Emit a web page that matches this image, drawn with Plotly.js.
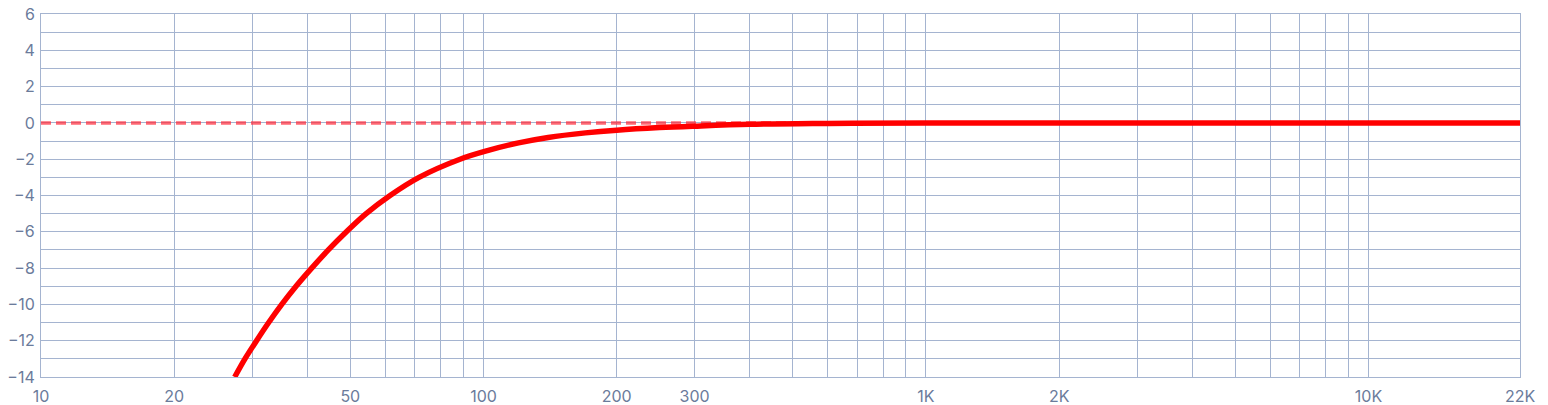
<!DOCTYPE html>
<html>
<head>
<meta charset="utf-8">
<script src="https://cdn.plot.ly/plotly-3.0.1.min.js"></script>
<style>html,body{margin:0;padding:0;background:#fff;}#chart{width:1548px;height:405px;}</style>
</head>
<body>
<div id="chart"></div>
<script>
// Frequency response (Hz, dB)
const freqs = [27.4, 28.9, 30.7, 32.7, 35.0, 37.7, 40.9, 44.6, 49.0, 54.3, 61.5, 71.5, 88.5, 103, 120, 140, 170, 200, 250, 300, 400, 600, 1000, 22000];
const gains = [-14, -13, -12, -11, -10, -9, -8, -7, -6, -5, -4, -3, -2, -1.5, -1.1, -0.8, -0.55, -0.4, -0.26, -0.18, -0.08, -0.03, 0, 0];

// Reference (flat) line
const refFreqs = [10, 22000];
const refGains = [0, 0];

// Axis ticks
const xTickVals = [10,20,30,40,50,60,70,80,90,100,200,300,400,500,600,700,800,900,1000,2000,3000,4000,5000,6000,7000,8000,9000,10000,22000];
const xTickText = ['10','20','','','50','','','','','100','200','300','','','','','','','1K','2K','','','','','','','','10K','22K'];
const yTickVals = [-14,-13,-12,-11,-10,-9,-8,-7,-6,-5,-4,-3,-2,-1,0,1,2,3,4,5,6];
const yTickText = ['\u221214','','\u221212','','\u221210','','\u22128','','\u22126','','\u22124','','\u22122','','0','','2','','4','','6'];

const gridColor = '#a5b4d0';
const textColor = '#6b7b9b';

const traces = [
  {x: refFreqs, y: refGains, mode: 'lines', line: {color: 'rgba(255,40,55,0.7)', width: 3.5, dash: '10px,5px'}, hoverinfo: 'skip'},
  {x: freqs, y: gains, mode: 'lines', line: {color: '#ff0000', width: 5.5, shape: 'spline', smoothing: 1}}
];

const layout = {
  width: 1548, height: 405,
  margin: {l: 41, r: 28, t: 14, b: 28},
  paper_bgcolor: '#ffffff', plot_bgcolor: '#ffffff',
  showlegend: false,
  font: {family: 'Inter, sans-serif', size: 16, color: textColor},
  xaxis: {
    type: 'log', range: [1, Math.log10(22000)],
    tickmode: 'array', tickvals: xTickVals, ticktext: xTickText,
    showgrid: true, gridcolor: gridColor, gridwidth: 1,
    showline: true, linecolor: gridColor, linewidth: 1, mirror: true,
    zeroline: false, ticks: 'outside', ticklen: 5, tickcolor: 'rgba(0,0,0,0)',
    tickfont: {size: 16, color: textColor}
  },
  yaxis: {
    range: [-14, 6],
    tickmode: 'array', tickvals: yTickVals, ticktext: yTickText,
    showgrid: true, gridcolor: gridColor, gridwidth: 1,
    showline: true, linecolor: gridColor, linewidth: 1, mirror: true,
    zeroline: false, ticks: 'outside', ticklen: 2, tickcolor: 'rgba(0,0,0,0)',
    tickfont: {size: 16, color: textColor}
  }
};

Plotly.newPlot('chart', traces, layout, {displayModeBar: false, staticPlot: true});
</script>
</body>
</html>
